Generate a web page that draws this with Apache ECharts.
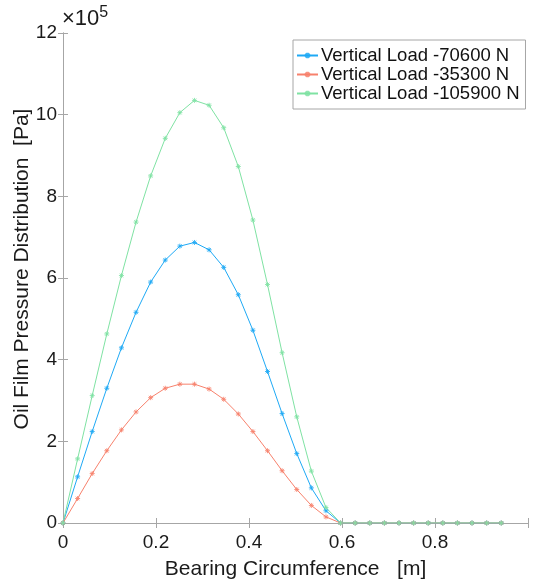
<!DOCTYPE html>
<html><head><meta charset="utf-8">
<script src="https://cdn.jsdelivr.net/npm/echarts@6/dist/echarts.min.js"></script>
<style>html,body{margin:0;padding:0;background:#fff}#c{width:534px;height:588px}</style>
</head><body><div id="c"></div>
<script>
// x positions: step pi/100 (m)
const xValues = [0,0.0314,0.0628,0.0942,0.1257,0.1571,0.1885,0.2199,0.2513,0.2827,0.3142,0.3456,0.3770,0.4084,0.4398,0.4712,0.5027,0.5341,0.5655,0.5969,0.6283,0.6597,0.6912,0.7226,0.7540,0.7854,0.8168,0.8482,0.8796,0.9111,0.9425];
// pressures in units of 1e5 Pa
const load70600 = [0,1.13,2.24,3.30,4.29,5.16,5.90,6.44,6.78,6.87,6.69,6.26,5.59,4.72,3.71,2.68,1.70,0.86,0.30,0,0,0,0,0,0,0,0,0,0,0,0];
const load35300 = [0,0.60,1.21,1.77,2.28,2.72,3.07,3.30,3.40,3.40,3.28,3.03,2.67,2.24,1.77,1.28,0.82,0.43,0.15,0,0,0,0,0,0,0,0,0,0,0,0];
const load105900 = [0,1.57,3.12,4.63,6.06,7.37,8.50,9.42,10.05,10.35,10.23,9.68,8.73,7.42,5.84,4.17,2.60,1.27,0.38,0,0,0,0,0,0,0,0,0,0,0,0];
const seriesNames = ['Vertical Load -70600 N','Vertical Load -35300 N','Vertical Load -105900 N'];
const xTicks = [0,0.2,0.4,0.6,0.8];
const yTicks = [0,2,4,6,8,10,12];
const xTitle = 'Bearing Circumference   [m]';
const yTitle = 'Oil Film Pressure Distribution  [Pa]';

const colors = ['#1ea9f5','#f7816c','#7fe2a3'];
const star = 'path://M0,-5L0,5M-5,0L5,0M-3.6,-3.6L3.6,3.6M-3.6,3.6L3.6,-3.6';
const font = 'Liberation Sans, Arial, Helvetica, sans-serif';
const axisCol = '#a6a6a6';
const txt = '#1a1a1a';

function mk(name, arr, col){
  return {
    name: name, type:'line', data: xValues.map((x,i)=>[x, arr[i]]),
    symbol: star, symbolSize: 5, showSymbol:true,
    lineStyle:{color:col, width:1},
    itemStyle:{color:col, borderColor:col, borderWidth:1, opacity:0.85},
    emphasis:{disabled:true}, animation:false
  };
}

const chart = echarts.init(document.getElementById('c'), null, {renderer:'canvas'});
chart.setOption({
  animation:false,
  backgroundColor:'#fff',
  color: colors,
  grid:{left:63, right:6, top:33, bottom:65, containLabel:false},
  xAxis:[{
    type:'value', min:0, max:1, interval:0.2,
    axisLine:{show:true, lineStyle:{color:axisCol}},
    axisTick:{show:true, inside:true, length:5, lineStyle:{color:axisCol}},
    splitLine:{show:false},
    axisLabel:{color:txt, fontSize:19, fontFamily:font, margin:10,
      formatter:v=> xTicks.some(t=>Math.abs(t-v)<1e-9) ? String(+v.toFixed(1)) : ''},
    name:xTitle, nameLocation:'middle', nameGap:36,
    nameTextStyle:{color:txt, fontSize:21, fontFamily:font}
  },{
    type:'value', min:0, max:1, interval:0.2, position:'top',
    axisLine:{show:true, lineStyle:{color:axisCol}},
    axisTick:{show:true, inside:true, length:5, lineStyle:{color:axisCol}},
    axisLabel:{show:false}, splitLine:{show:false}
  }],
  yAxis:[{
    type:'value', min:0, max:12, interval:2,
    axisLine:{show:true, lineStyle:{color:axisCol}},
    axisTick:{show:true, inside:true, length:5, lineStyle:{color:axisCol}},
    splitLine:{show:false},
    axisLabel:{color:txt, fontSize:19, fontFamily:font, margin:6,
      formatter:v=> yTicks.includes(v) ? String(v) : ''}
  },{
    type:'value', min:0, max:12, interval:2, position:'right',
    axisLine:{show:true, lineStyle:{color:axisCol}},
    axisTick:{show:true, inside:true, length:5, lineStyle:{color:axisCol}},
    axisLabel:{show:false}, splitLine:{show:false}
  }],
  legend:{
    show:true, left:293, top:40, orient:'vertical',
    backgroundColor:'#fff', borderColor:'#a6a6a6', borderWidth:1,
    padding:[6,6,6,3], itemGap:0, itemWidth:21, itemHeight:7,
    textStyle:{color:'#111', fontSize:18.5, lineHeight:19, fontFamily:font, padding:[0,0,0,-2]},
    data: seriesNames, selectedMode:false
  },
  graphic:[{
    type:'text', left:62, top:5,
    style:{rich:{a:{fontSize:22, fontFamily:font, fill:txt}, b:{fontSize:16, fontFamily:font, fill:txt, verticalAlign:'top', padding:[0,0,12,0]}},
      text:'{a|\u00d710}{b|5}'}
  },{
    type:'text', x:22, y:269, rotation:Math.PI/2,
    style:{text:yTitle, fontSize:21, fontFamily:font, fill:txt, align:'center', verticalAlign:'middle'}
  }],
  series:[
    mk(seriesNames[0], load70600, colors[0]),
    mk(seriesNames[1], load35300, colors[1]),
    mk(seriesNames[2], load105900, colors[2])
  ]
});
</script></body></html>
